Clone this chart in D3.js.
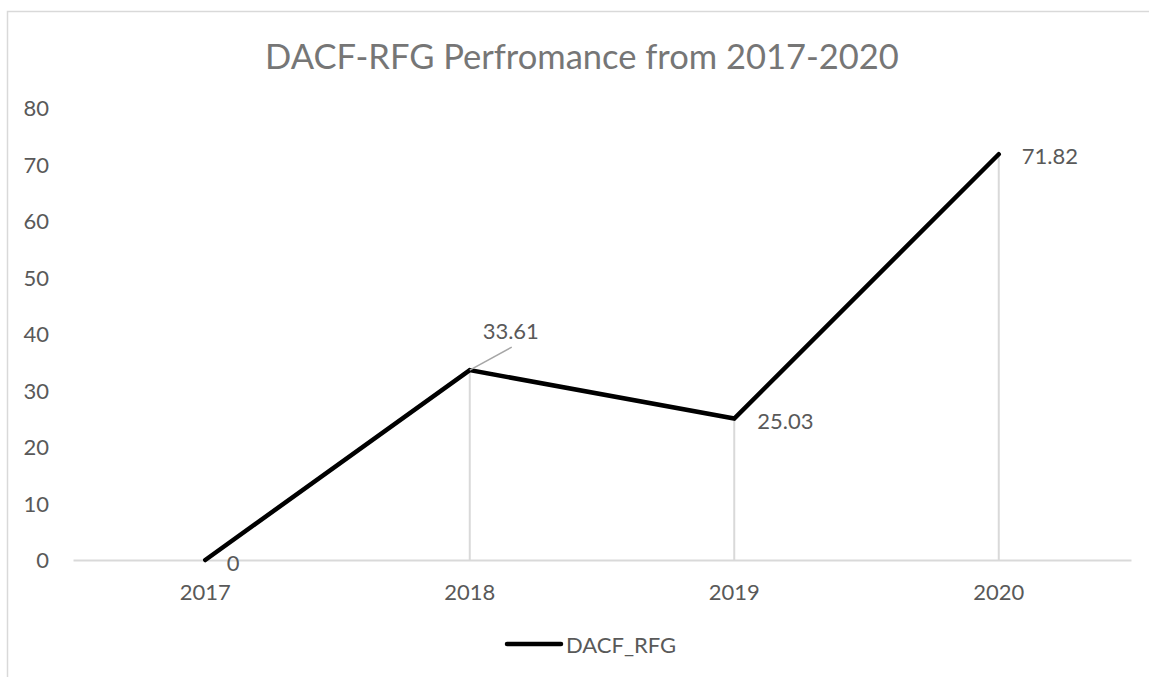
<!DOCTYPE html>
<html>
<head>
<meta charset="utf-8">
<script src="https://cdn.jsdelivr.net/npm/d3@7"></script>
<style>
html,body{margin:0;padding:0;background:#fff;}
svg{display:block;}
text{font-family:Lato,"Open Sans",sans-serif;}
</style>
</head>
<body>
<svg id="chart" width="1149" height="677"></svg>
<script>
const categories = ["2017","2018","2019","2020"];
const values = [0, 33.61, 25.03, 71.82];
const yTicks = [0,10,20,30,40,50,60,70,80];
const seriesName = "DACF_RFG";
const title = "DACF-RFG Perfromance from 2017-2020";

const svg = d3.select("#chart");
const W = 1149, H = 677;

// chart border
svg.append("rect").attr("x",7.5).attr("y",11.5).attr("width",W).attr("height",H)
  .attr("fill","none").attr("stroke","#d9d9d9").attr("stroke-width",1.5);

const x = d3.scaleBand().domain(categories).range([73,1131]);
const y = d3.scaleLinear().domain([0,80]).range([560,108]);
const cx = d => x(d) + x.bandwidth()/2;

// title
svg.append("text").attr("x",582).attr("y",55).attr("text-anchor","middle")
  .attr("dominant-baseline","central").attr("fill","#767676")
  .attr("font-size",34.5).text(title);

// y axis labels
const yAxis = d3.axisLeft(y).tickValues(yTicks).tickSize(0).tickPadding(0);
const gy = svg.append("g").attr("transform","translate(49,0)").call(yAxis);
gy.select(".domain").remove();
gy.selectAll("text").attr("fill","#595959").attr("font-size",22)
  .attr("font-family","Lato,'Open Sans',sans-serif").attr("dy","0.35em");

// x axis
const xAxis = d3.axisBottom(x).tickSize(0).tickPadding(0);
const gx = svg.append("g").attr("transform","translate(0,560)").call(xAxis);
gx.select(".domain").attr("stroke","#d9d9d9").attr("stroke-width",2);
gx.selectAll("text").attr("fill","#595959").attr("font-size",22)
  .attr("font-family","Lato,'Open Sans',sans-serif").attr("y",32).attr("dy","0.35em");

// drop lines
const data = categories.map((c,i)=>({c, v: values[i]}));
svg.append("g").selectAll("line").data(data.filter(d=>d.v>0)).join("line")
  .attr("x1",d=>cx(d.c)).attr("x2",d=>cx(d.c))
  .attr("y1",d=>y(d.v)).attr("y2",y(0))
  .attr("stroke","#d9d9d9").attr("stroke-width",2);

// series line
const line = d3.line().x(d=>cx(d.c)).y(d=>y(d.v));
svg.append("path").datum(data).attr("d",line).attr("fill","none")
  .attr("stroke","#000").attr("stroke-width",4.5)
  .attr("stroke-linejoin","miter").attr("stroke-linecap","round");

// data labels
const labelOffsets = [
  {dx:28, dy:2, anchor:"middle"},
  {dx:41, dy:-40, anchor:"middle"},
  {dx:23, dy:2, anchor:"start"},
  {dx:23, dy:1, anchor:"start"}
];
// leader line for 2018
const d1 = data[1];
svg.append("line").attr("x1",cx(d1.c)).attr("y1",y(d1.v))
  .attr("x2",cx(d1.c)+42).attr("y2",y(d1.v)-23)
  .attr("stroke","#a6a6a6").attr("stroke-width",1.5);

svg.append("g").selectAll("text").data(data).join("text")
  .attr("x",(d,i)=>cx(d.c)+labelOffsets[i].dx)
  .attr("y",(d,i)=>y(d.v)+labelOffsets[i].dy)
  .attr("text-anchor",(d,i)=>labelOffsets[i].anchor)
  .attr("dominant-baseline","central")
  .attr("fill","#595959").attr("font-size",22)
  .text(d=>d.v);

// legend
svg.append("line").attr("x1",507).attr("x2",561).attr("y1",644).attr("y2",644)
  .attr("stroke","#000").attr("stroke-width",4.5).attr("stroke-linecap","round");
svg.append("text").attr("x",566).attr("y",644).attr("dominant-baseline","central")
  .attr("fill","#595959").attr("font-size",22).text(seriesName);
</script>
</body>
</html>
